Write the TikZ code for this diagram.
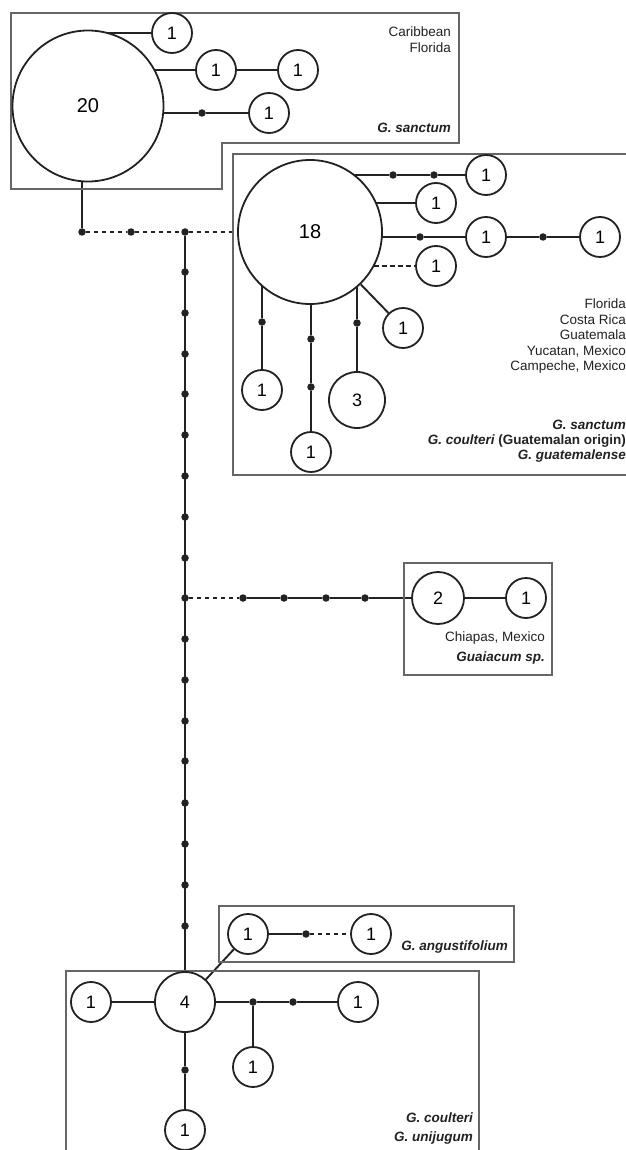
\documentclass[tikz,border=0pt]{standalone}
\usepackage{fontspec}
\setmainfont{Liberation Sans}
\usetikzlibrary{backgrounds}
\definecolor{ink}{HTML}{222222}
\definecolor{boxc}{HTML}{666666}
\begin{document}
\begin{tikzpicture}[x=1pt,y=-1pt,
  hap/.style={circle,draw=ink,fill=white,line width=1.8pt,inner sep=0pt,minimum size=#1,font=\fontsize{18}{20}\selectfont},
  big/.style={font=\fontsize{20}{22}\selectfont},
  mdot/.style={circle,fill=ink,inner sep=0pt,minimum size=7.5pt},
  edge/.style={draw=ink,line width=1.9pt},
  dedge/.style={draw=ink,line width=1.9pt,dash pattern=on 4.5pt off 3.5pt},
  grp/.style={draw=boxc,line width=1.3pt},
  lab/.style={anchor=east,inner sep=0pt,font=\fontsize{13.5}{15}\selectfont,text=ink},
  sp/.style={anchor=east,inner sep=0pt,font=\fontsize{13.5}{15}\selectfont\bfseries\itshape,text=ink}]
\useasboundingbox (0,0) rectangle (625,1150);

% group boxes
\draw[grp] (11,13) -- (459,13) -- (459,143) -- (222,143) -- (222,189) -- (11,189) -- cycle;
\draw[grp] (233,154) rectangle (632,475);
\draw[grp] (404,563) rectangle (552,675);
\draw[grp] (219,906) rectangle (514,962);
\draw[grp] (66,971) rectangle (479,1165);

% ---- top group (20)
\node[hap=151pt,big] (c20) at (88,106) {20};
\node[hap=40pt] (a1) at (172,33) {1};
\node[hap=40pt] (a2) at (216,70) {1};
\node[hap=40pt] (a3) at (298,70) {1};
\node[hap=40pt] (a4) at (269,113) {1};
\node[mdot] (ad1) at (202,113) {};

% ---- junctions on dashed line
\node[mdot] (j0) at (82,232) {};
\node[mdot] (j1) at (131,232) {};
\node[mdot] (j2) at (185,232) {};

% ---- group 18
\node[hap=144pt,big] (c18) at (310,232) {18};
\node[hap=40pt] (b1) at (486,175) {1};
\node[mdot] (bd1) at (393,175) {};
\node[mdot] (bd2) at (434,175) {};
\node[hap=40pt] (b2) at (436,203) {1};
\node[hap=40pt] (b3) at (486,237) {1};
\node[mdot] (bd3) at (420,237) {};
\node[hap=40pt] (b4) at (600,237) {1};
\node[mdot] (bd4) at (543,237) {};
\node[hap=40pt] (b5) at (436,266) {1};
\node[hap=40pt] (b6) at (403,328) {1};
\node[hap=40pt] (b7) at (262,390) {1};
\node[mdot] (bd5) at (262,322) {};
\node[hap=40pt] (b8) at (311,452) {1};
\node[mdot] (bd6) at (311,339) {};
\node[mdot] (bd7) at (311,387) {};
\node[hap=56pt] (b9) at (357,400) {3};
\node[mdot] (bd8) at (357,323) {};

% ---- main vertical dots
\foreach \i [count=\k] in {272,313,354,394,435,476,517,558} {\node[mdot] (m\k) at (185,\i) {};}
\node[mdot] (jc) at (185,598) {};
\foreach \i [count=\k] in {639,680,721,761,803,844,885,926} {\node[mdot] (n\k) at (185,\i) {};}

% ---- Chiapas
\node[mdot] (cd1) at (243,598) {};
\node[mdot] (cd2) at (284,598) {};
\node[mdot] (cd3) at (326,598) {};
\node[mdot] (cd4) at (365,598) {};
\node[hap=52pt] (c2) at (438,598) {2};
\node[hap=40pt] (c2a) at (526,598) {1};

% ---- bottom group (4)
\node[hap=60pt] (c4) at (185,1002) {4};
\node[hap=40pt] (g1) at (248,934) {1};
\node[mdot] (gd1) at (306,934) {};
\node[hap=40pt] (g2) at (371,934) {1};
\node[hap=40pt] (e1) at (91,1002) {1};
\node[mdot] (ed1) at (253,1002) {};
\node[mdot] (ed2) at (293,1002) {};
\node[hap=40pt] (e2) at (358,1002) {1};
\node[hap=40pt] (e3) at (253,1067) {1};
\node[mdot] (ed3) at (185,1070) {};
\node[hap=40pt] (e4) at (185,1130) {1};

% ---- connectors
\begin{scope}[on background layer]
  \fill[white] (0,0) rectangle (625,1150);
  \draw[edge] (a1) -- (a1 -| c20);
  \draw[edge] (c20 |- a2) -- (a2) -- (a3);
  \draw[edge] (c20 |- a4) -- (ad1) -- (a4);
  \draw[edge] (j0) -- (j0 |- c20);
  \draw[dedge] (j0) -- (j1) -- (j2) -- (c18);
  \draw[edge] (c18 |- b1) -- (bd1) -- (bd2) -- (b1);
  \draw[edge] (c18 |- b2) -- (b2);
  \draw[edge] (c18 |- b3) -- (bd3) -- (b3) -- (bd4) -- (b4);
  \draw[dedge] (c18 |- b5) -- (b5);
  \draw[edge] (c18) -- (b6);
  \draw[edge] (b7 |- c18) -- (bd5) -- (b7);
  \draw[edge] (b8 |- c18) -- (bd6) -- (bd7) -- (b8);
  \draw[edge] (b9 |- c18) -- (bd8) -- (b9);
  \draw[edge] (j2) -- (c4);
  \draw[dedge] (jc) -- (cd1);
  \draw[edge] (cd1) -- (cd2) -- (cd3) -- (cd4) -- (c2) -- (c2a);
  \draw[edge] (c4) -- (g1) -- (gd1);
  \draw[dedge] (gd1) -- (g2);
  \draw[edge] (e1) -- (c4) -- (ed1) -- (ed2) -- (e2);
  \draw[edge] (ed1) -- (e3);
  \draw[edge] (c4) -- (ed3) -- (e4);
\end{scope}

% ---- labels
\node[lab] (t1) at (451,32) {Caribbean};
\node[lab] (t2) at (451,48) {Florida};
\node[sp] (t3) at (451,128) {G. sanctum};

\node[lab] (u1) at (626,304) {Florida};
\node[lab] (u2) at (626,320) {Costa Rica};
\node[lab] (u3) at (626,335) {Guatemala};
\node[lab] (u4) at (626,351) {Yucatan, Mexico};
\node[lab] (u5) at (626,367) {Campeche, Mexico};
\node[sp] (u6) at (626,425) {G. sanctum};
\node[sp] (u7) at (626,441) {G. coulteri \upshape(Guatemalan origin)};
\node[sp] (u8) at (626,456) {G. guatemalense};

\node[lab] (v1) at (545,638) {Chiapas, Mexico};
\node[sp] (v2) at (545,658) {Guaiacum sp.};

\node[sp] (w1) at (508,947) {G. angustifolium};
\node[sp] (w2) at (473,1118) {G. coulteri};
\node[sp] (w3) at (473,1138) {G. unijugum};
\end{tikzpicture}
\end{document}
